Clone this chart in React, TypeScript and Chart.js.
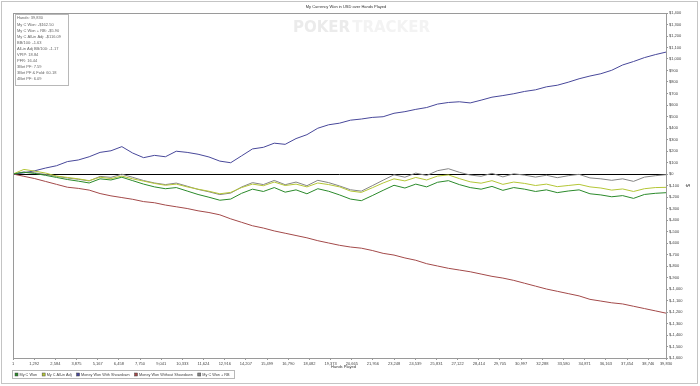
import React, { useEffect, useRef } from 'react';
import { Chart, registerables } from 'chart.js';

Chart.register(...registerables);

const TITLE = 'My Currency Won in USD over Hands Played';
const X_TITLE = 'Hands Played';
const Y_TITLE = '$';

const HANDS = [
  1, 664, 1328, 1992, 2656, 3320, 3984, 4648, 5312, 5976, 6640, 7304, 7968, 8632, 9296, 9960,
  10624, 11288, 11952, 12616, 13280, 13944, 14608, 15272, 15936, 16600, 17264, 17928, 18592, 19256,
  19920, 20584, 21248, 21912, 22576, 23240, 23904, 24568, 25232, 25896, 26560, 27224, 27888, 28552,
  29216, 29880, 30544, 31208, 31872, 32536, 33200, 33864, 34528, 35192, 35856, 36520, 37184, 37848,
  38512, 39176, 39830,
];

const MY_C_WON = [
  0, 15, 5, -12, -30, -48, -62, -78, -42, -52, -28, -58, -88, -112, -128, -118, -148, -178, -202, -228,
  -218, -168, -132, -152, -118, -158, -138, -172, -128, -150, -182, -218, -232, -188, -142, -98, -122, -88,
  -112, -72, -58, -92, -118, -132, -108, -142, -118, -132, -152, -138, -162, -148, -138, -172, -182, -198,
  -188, -212, -178, -168, -162.5,
];

const MY_C_ALLIN_ADJ = [
  0, 40, 25, 8, -18, -30, -42, -58, -28, -40, -18, -42, -62, -82, -98, -88, -112, -132, -150, -172,
  -160, -118, -88, -102, -70, -100, -88, -112, -78, -92, -112, -148, -160, -120, -78, -42, -60, -30,
  -52, -18, -8, -40, -68, -80, -58, -90, -70, -82, -100, -88, -110, -100, -90, -112, -122, -140, -130,
  -152, -128, -118, -116,
];

const WON_WITH_SD = [
  0, 10, 28, 52, 72, 108, 122, 150, 188, 202, 238, 182, 142, 162, 150, 198, 188, 172, 148, 112,
  98, 158, 218, 232, 268, 258, 308, 342, 398, 428, 442, 468, 478, 492, 498, 528, 542, 562, 578, 608,
  622, 628, 618, 642, 668, 682, 698, 718, 732, 758, 772, 798, 828, 852, 872, 902, 948, 978, 1012, 1038,
  1060,
];

const WON_WITHOUT_SD = [
  0, -20, -40, -65, -90, -115, -125, -140, -170, -190, -205, -220, -240, -250, -270, -285, -300, -320,
  -335, -355, -390, -420, -450, -470, -495, -515, -535, -555, -580, -600, -620, -635, -645, -665, -690,
  -705, -730, -750, -780, -800, -820, -835, -850, -870, -890, -905, -925, -950, -975, -1000, -1020,
  -1040, -1060, -1090, -1105, -1120, -1130, -1150, -1170, -1190, -1210,
];

const MY_C_WON_RB = [
  0, 18, 10, -4, -20, -35, -46, -60, -21, -29, -2, -29, -57, -78, -92, -79, -106, -134, -155, -179,
  -166, -113, -75, -92, -56, -93, -70, -102, -55, -75, -104, -137, -149, -102, -54, -7, -28, 8, -13, 29,
  46, 15, -9, -20, 6, -25, 2, -10, -27, -11, -32, -15, -3, -34, -42, -55, -42, -64, -27, -15, -6,
];

const X_TICKS = [
  1, 1292, 2584, 3875, 5167, 6458, 7750, 9041, 10333, 11624, 12916, 14207, 15499, 16790, 18082,
  19373, 20665, 21956, 23248, 24539, 25831, 27122, 28414, 29705, 30997, 32288, 33580, 34871, 36163,
  37454, 38746, 39830,
];

const SERIES_NAMES = [
  'My C Won',
  'My C All-in Adj',
  'Money Won With Showdown',
  'Money Won Without Showdown',
  'My C Won + RB',
];
const SERIES_COLORS = ['#2b8a2b', '#b4c636', '#48489a', '#a34a4a', '#858585'];

const STATS = [
  'Hands: 39,830',
  'My C Won: -$162.50',
  'My C Won + RB: -$5.90',
  'My C All-in Adj: -$116.09',
  'BB/100: -1.63',
  'All-in Adj BB/100: -1.17',
  'VPIP: 18.84',
  'PFR: 16.44',
  '3Bet PF: 7.59',
  '3Bet PF & Fold: 60.18',
  '4Bet PF: 6.09',
];

const FONT = '"Liberation Sans", Arial, sans-serif';

const decor = {
  id: 'decor',
  beforeDatasetsDraw(chart: any) {
    const { ctx } = chart;
    ctx.save();
    ctx.font = 'bold 15px "DejaVu Sans"';
    ctx.textBaseline = 'middle';
    ctx.textAlign = 'left';
    ctx.fillStyle = '#ebebeb';
    ctx.fillText('POKER', 293, 28);
    const w = ctx.measureText('POKER').width;
    ctx.fillStyle = '#f3f3f3';
    ctx.fillText('TRACKER', 293 + w + 2, 28);
    ctx.restore();
  },
  afterDraw(chart: any) {
    const { ctx, chartArea: a } = chart;
    ctx.save();
    // outer frame
    ctx.strokeStyle = '#c4c4c4';
    ctx.lineWidth = 1;
    ctx.strokeRect(1.5, 1.5, 696, 382);
    // plot frame
    ctx.strokeStyle = '#9a9a9a';
    const l = Math.round(a.left) + 0.5;
    const t = Math.round(a.top) + 0.5;
    ctx.strokeRect(l, t, Math.round(a.right) - Math.round(a.left), Math.round(a.bottom) - Math.round(a.top));

    ctx.fillStyle = '#333';
    ctx.font = '4px ' + FONT;
    ctx.textAlign = 'center';
    ctx.textBaseline = 'middle';
    ctx.fillText(TITLE, 346, 6.5);
    ctx.fillText(X_TITLE, (a.left + a.right) / 2 + 4, 367);

    ctx.save();
    ctx.translate(687, (a.top + a.bottom) / 2);
    ctx.rotate(Math.PI / 2);
    ctx.font = '5px ' + FONT;
    ctx.fillText(Y_TITLE, 0, 0);
    ctx.restore();

    // stats box
    ctx.fillStyle = 'rgba(255,255,255,0.85)';
    ctx.fillRect(15.5, 14.5, 53, 71);
    ctx.strokeStyle = '#b8b8b8';
    ctx.strokeRect(15.5, 14.5, 53, 71);
    ctx.fillStyle = '#666';
    ctx.textAlign = 'left';
    ctx.font = '4px ' + FONT;
    STATS.forEach((s, i) => ctx.fillText(s, 17, 18.3 + i * 6.1));

    // legend
    ctx.font = '3.8px ' + FONT;
    let x = 15;
    const items: number[] = [];
    SERIES_NAMES.forEach((name) => {
      items.push(x);
      x += 4.5 + ctx.measureText(name).width + 5;
    });
    ctx.strokeStyle = '#b8b8b8';
    ctx.lineWidth = 1;
    ctx.strokeRect(12.5, 370.5, Math.round(x - 5 + 4) - 12, 8);
    SERIES_NAMES.forEach((name, i) => {
      const xi = items[i];
      ctx.fillStyle = SERIES_COLORS[i];
      ctx.fillRect(xi, 373, 3, 3);
      ctx.strokeStyle = '#444';
      ctx.lineWidth = 0.5;
      ctx.strokeRect(xi, 373, 3, 3);
      ctx.fillStyle = '#444';
      ctx.fillText(name, xi + 4.5, 374.7);
    });
    ctx.restore();
  },
};

export default function App() {
  const ref = useRef<HTMLCanvasElement>(null);
  useEffect(() => {
    document.body.style.margin = '0';
    const series = [MY_C_WON, MY_C_ALLIN_ADJ, WON_WITH_SD, WON_WITHOUT_SD, MY_C_WON_RB];
    const chart = new Chart(ref.current as HTMLCanvasElement, {
      type: 'line',
      data: {
        datasets: series.map((vals, i) => ({
          label: SERIES_NAMES[i],
          data: vals.map((v, j) => ({ x: HANDS[j], y: v })),
          borderColor: SERIES_COLORS[i],
          backgroundColor: SERIES_COLORS[i],
          borderWidth: 1,
          pointRadius: 0,
          tension: 0,
          fill: false,
        })),
      },
      options: {
        animation: false,
        responsive: false,
        maintainAspectRatio: false,
        layout: { padding: { left: 13, top: 13, right: 0, bottom: 0 } },
        plugins: { legend: { display: false }, title: { display: false }, tooltip: { enabled: false } },
        scales: {
          x: {
            type: 'linear',
            min: 1,
            max: 39830,
            afterBuildTicks: (scale: any) => {
              scale.ticks = X_TICKS.map((v) => ({ value: v }));
            },
            afterFit: (scale: any) => {
              scale.height = 28;
            },
            grid: { display: true, color: 'transparent', drawTicks: true, tickLength: 2, tickColor: '#999' },
            border: { display: false },
            ticks: {
              autoSkip: false,
              maxRotation: 0,
              padding: 1,
              color: '#444',
              font: { size: 4, family: FONT },
              callback: (v: any) => Number(v).toLocaleString('en-US'),
            },
          },
          y: {
            type: 'linear',
            position: 'right',
            min: -1600,
            max: 1400,
            afterFit: (scale: any) => {
              scale.width = 34;
            },
            grid: {
              color: (c: any) => (c.tick && c.tick.value === 0 ? '#000' : 'transparent'),
              drawTicks: true,
              tickLength: 2,
              tickColor: '#999',
            },
            border: { display: false },
            ticks: {
              stepSize: 100,
              padding: 1,
              color: '#444',
              font: { size: 4, family: FONT },
              callback: (v: any) => '$' + Number(v).toLocaleString('en-US'),
            },
          },
        },
      },
      plugins: [decor],
    });
    return () => chart.destroy();
  }, []);
  return (
    <div style={{ width: 700, height: 386, background: '#fff' }}>
      <canvas ref={ref} width={700} height={386} style={{ display: 'block' }} />
    </div>
  );
}
